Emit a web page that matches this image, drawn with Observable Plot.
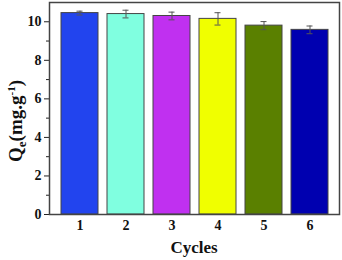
<!DOCTYPE html>
<html><head><meta charset="utf-8">
<script src="https://cdn.jsdelivr.net/npm/d3@7"></script>
<script src="https://cdn.jsdelivr.net/npm/@observablehq/plot@0.6"></script>
<style>body{margin:0;background:#fff}</style>
</head><body><div id="chart"></div>
<script>
const cycles = ["1","2","3","4","5","6"];
const qe = [10.45, 10.40, 10.30, 10.15, 9.80, 9.58];
const err = [0.10, 0.20, 0.20, 0.32, 0.21, 0.20];
const colors = ["#2244EE", "#80FFE0", "#C030F0", "#F0FF00", "#5A8000", "#0000B0"];
const yTicks = [0, 2, 4, 6, 8, 10];
const yMinor = [1, 3, 5, 7, 9];

const data = cycles.map((c, i) => ({c, v: qe[i], e: err[i], col: colors[i]}));
const font = "'Liberation Serif', 'Times New Roman', serif";

const plot = Plot.plot({
  width: 342, height: 260,
  marginLeft: 49, marginRight: 3, marginTop: 2, marginBottom: 46,
  style: {fontFamily: font, fontWeight: "bold", fontSize: "14px", color: "#111", background: "#fff"},
  x: {domain: cycles, padding: 0.2, label: null, tickSize: 0, tickPadding: 6},
  y: {domain: [0, 11], label: null},
  marks: [
    Plot.barY(data, {x: "c", y: "v", fill: "col", stroke: "#444", strokeWidth: 1}),
    Plot.ruleX(data, {x: "c", y1: d => d.v - d.e, y2: d => d.v + d.e, stroke: "#555", strokeWidth: 1}),
    Plot.tickY(data, {x: "c", y: d => d.v - d.e, stroke: "#555", insetLeft: 21.5, insetRight: 21.5}),
    Plot.tickY(data, {x: "c", y: d => d.v + d.e, stroke: "#555", insetLeft: 21.5, insetRight: 21.5}),
    Plot.axisY({ticks: yTicks, tickSize: 5, tickPadding: 3, label: null, stroke: "#222"}),
    Plot.axisY({ticks: yMinor, tickSize: 3, tickFormat: () => "", label: null, stroke: "#222"}),
    Plot.frame({stroke: "#444", strokeWidth: 1.5})
  ]
});

const svg = d3.select(plot);
svg.append("text")
  .attr("transform", "translate(22,121) rotate(-90)")
  .attr("text-anchor", "middle")
  .attr("font-family", font).attr("font-weight", "bold").attr("font-size", 19).attr("fill", "#111")
  .call(t => {
    t.append("tspan").text("Q");
    t.append("tspan").attr("font-size", 13).attr("dy", 4).text("e");
    t.append("tspan").attr("dy", -4).text("(mg.g");
    t.append("tspan").attr("font-size", 11).attr("dy", -7).text("-1");
    t.append("tspan").attr("dy", 7).text(")");
  });
svg.append("text")
  .attr("x", 194).attr("y", 253)
  .attr("text-anchor", "middle")
  .attr("font-family", font).attr("font-weight", "bold").attr("font-size", 17).attr("fill", "#111")
  .text("Cycles");

document.getElementById("chart").appendChild(plot);
</script>
</body></html>
